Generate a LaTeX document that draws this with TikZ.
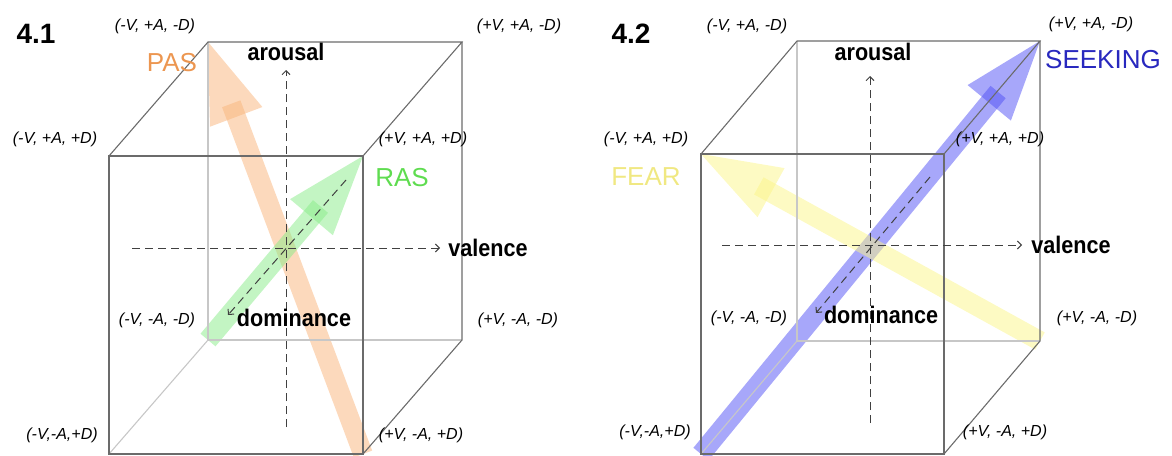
\documentclass[tikz,border=0pt]{standalone}
\usepackage{fontspec}
\setmainfont{Liberation Sans}
\newfontfamily\axisfont[FakeStretch=0.9]{Liberation Sans}
\usetikzlibrary{arrows.meta,calc}

\definecolor{pasorange}{RGB}{249,180,122}
\definecolor{pastext}{RGB}{236,150,80}
\definecolor{rasgreen}{RGB}{135,235,135}
\definecolor{rastext}{RGB}{95,220,80}
\definecolor{seekblue}{RGB}{80,80,245}
\definecolor{seektext}{RGB}{40,40,190}
\definecolor{fearyellow}{RGB}{251,245,135}
\definecolor{feartext}{RGB}{240,232,130}

% see-through fat arrow: colour, tail, tip
\newcommand{\fatarrow}[3]{%
    \coordinate (hb) at ($(#3)!40pt!(#2)$);
    \coordinate (se) at ($(#3)!33pt!(#2)$);
    \draw[#1, opacity=0.5, line width=9.8pt] (#2) -- (se);
    \fill[#1, opacity=0.5] (hb) -- ($(hb)!14pt!90:(#3)$) -- (#3) -- ($(hb)!14pt!-90:(#3)$) -- cycle;
}

\begin{document}
\begin{tikzpicture}[x=0.5pt, y=-0.5pt,
    edge/.style={black!58, line width=0.55pt},
    hidden/.style={black!22, line width=0.55pt},
    axis/.style={black!75, line width=0.5pt, dash pattern=on 4pt off 2.5pt},
    corner/.style={font=\fontsize{8}{10}\selectfont\itshape},
    axlabel/.style={font=\axisfont\bfseries\fontsize{12}{14}\selectfont},
    emolabel/.style={font=\fontsize{13}{15}\selectfont},
    title/.style={font=\bfseries\fontsize{14}{16}\selectfont}]
    \useasboundingbox (0,0) rectangle (1172,455);

    % Corners of cube 4.1
    \coordinate (a-ftl) at (109,156); \coordinate (a-ftr) at (363,156);
    \coordinate (a-fbl) at (109,454); \coordinate (a-fbr) at (363,454);
    \coordinate (a-btl) at (208,42);  \coordinate (a-btr) at (462,42);
    \coordinate (a-bbl) at (208,340); \coordinate (a-bbr) at (462,340);

    % Corners of cube 4.2
    \coordinate (b-ftl) at (701,154); \coordinate (b-ftr) at (944,154);
    \coordinate (b-fbl) at (701,454); \coordinate (b-fbr) at (944,454);
    \coordinate (b-btl) at (797,41);  \coordinate (b-btr) at (1040,41);
    \coordinate (b-bbl) at (797,341); \coordinate (b-bbr) at (1040,341);

    % Emotion arrows
    \fatarrow{pasorange}{a-fbr}{a-btl}
    \fatarrow{rasgreen}{a-bbl}{a-ftr}
    \fatarrow{seekblue}{b-fbl}{b-btr}
    \fatarrow{fearyellow}{b-bbr}{b-ftl}

    % Cube 4.1
    \draw[hidden] (a-btl) -- (a-bbl) -- (a-bbr);
    \draw[hidden] (a-bbl) -- (a-fbl);
    \draw[edge] (a-ftl) rectangle (a-fbr);
    \draw[edge] (a-ftl) -- (a-btl) -- (a-btr) -- (a-ftr);
    \draw[edge] (a-btr) -- (a-bbr) -- (a-fbr);

    % Cube 4.2
    \draw[hidden] (b-btl) -- (b-bbl) -- (b-bbr);
    \draw[hidden] (b-bbl) -- (b-fbl);
    \draw[edge] (b-ftl) rectangle (b-fbr);
    \draw[edge] (b-ftl) -- (b-btl) -- (b-btr) -- (b-ftr);
    \draw[edge] (b-btr) -- (b-bbr) -- (b-fbr);

    % Axes of cube 4.1
    \coordinate (a-ar0) at (286,427); \coordinate (a-ar1) at (286,70);
    \coordinate (a-va0) at (132,248); \coordinate (a-va1) at (440,248);
    \coordinate (a-do0) at (346,180); \coordinate (a-do1) at (228,315);
    \draw[axis, -{Straight Barb[length=2pt,width=4pt]}] (a-ar0) -- (a-ar1);
    \draw[axis, -{Straight Barb[length=2pt,width=4pt]}] (a-va0) -- (a-va1);
    \draw[axis, -{Straight Barb[length=2pt,width=4pt]}] (a-do0) -- (a-do1);

    % Axes of cube 4.2
    \coordinate (b-ar0) at (870,423); \coordinate (b-ar1) at (870,76);
    \coordinate (b-va0) at (722,245); \coordinate (b-va1) at (1022,245);
    \coordinate (b-do0) at (930,177); \coordinate (b-do1) at (816,313);
    \draw[axis, -{Straight Barb[length=2pt,width=4pt]}] (b-ar0) -- (b-ar1);
    \draw[axis, -{Straight Barb[length=2pt,width=4pt]}] (b-va0) -- (b-va1);
    \draw[axis, -{Straight Barb[length=2pt,width=4pt]}] (b-do0) -- (b-do1);

    % Labels of cube 4.1
    \node[title] (a-title) at (36,34) {4.1};
    \node[corner] (a-btl-l) at (155,26) {(-V, +A, -D)};
    \node[corner] (a-btr-l) at (519,26) {(+V, +A, -D)};
    \node[corner] (a-ftl-l) at (55,139) {(-V, +A, +D)};
    \node[corner] (a-ftr-l) at (423,139) {(+V, +A, +D)};
    \node[corner] (a-bbl-l) at (157,320) {(-V, -A, -D)};
    \node[corner] (a-bbr-l) at (518,320) {(+V, -A, -D)};
    \node[corner] (a-fbl-l) at (62,435) {(-V,-A,+D)};
    \node[corner] (a-fbr-l) at (421,435) {(+V, -A, +D)};
    \node[axlabel] (a-ar-l) at (286,52) {arousal};
    \node[axlabel] (a-va-l) at (488,248) {valence};
    \node[axlabel] (a-do-l) at (294,318) {dominance};
    \node[emolabel, text=pastext] (a-pas) at (172,63) {PAS};
    \node[emolabel, text=rastext] (a-ras) at (402,178) {RAS};

    % Labels of cube 4.2
    \node[title] (b-title) at (631,34) {4.2};
    \node[corner] (b-btl-l) at (747,26) {(-V, +A, -D)};
    \node[corner] (b-btr-l) at (1091,24) {(+V, +A, -D)};
    \node[corner] (b-ftl-l) at (646,139) {(-V, +A, +D)};
    \node[corner] (b-ftr-l) at (1000,139) {(+V, +A, +D)};
    \node[corner] (b-bbl-l) at (749,318) {(-V, -A, -D)};
    \node[corner] (b-bbr-l) at (1097,318) {(+V, -A, -D)};
    \node[corner] (b-fbl-l) at (655,432) {(-V,-A,+D)};
    \node[corner] (b-fbr-l) at (1005,432) {(+V, -A, +D)};
    \node[axlabel] (b-ar-l) at (873,52) {arousal};
    \node[axlabel] (b-va-l) at (1071,245) {valence};
    \node[axlabel] (b-do-l) at (881,315) {dominance};
    \node[emolabel, text=seektext] (b-seek) at (1103,60) {SEEKING};
    \node[emolabel, text=feartext] (b-fear) at (646,177) {FEAR};
\end{tikzpicture}
\end{document}
